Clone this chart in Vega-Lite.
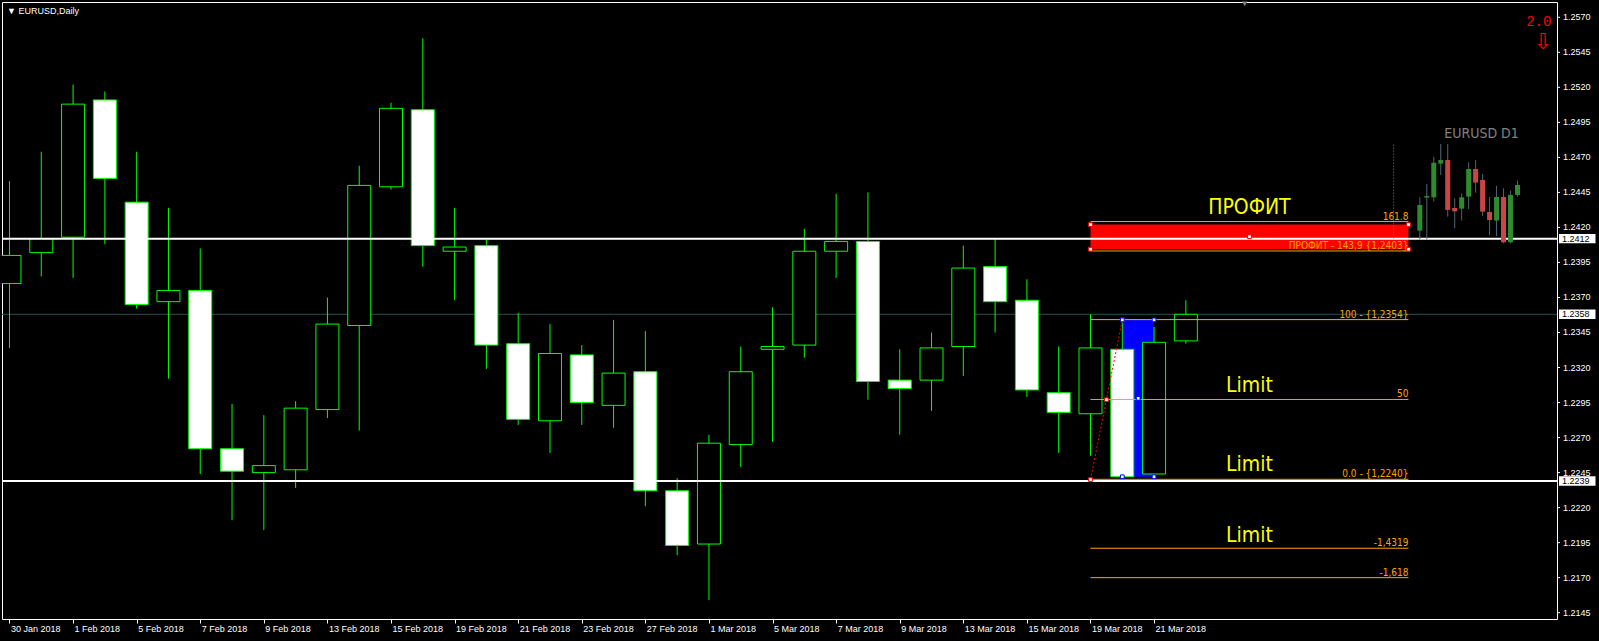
{
  "$schema": "https://vega.github.io/schema/vega-lite/v6.json",
  "width": 1555,
  "height": 617,
  "autosize": {"type": "none"},
  "padding": {"left": 2, "top": 2, "right": 42, "bottom": 22},
  "background": "#000000",
  "title": {
    "text": "▼ EURUSD,Daily",
    "anchor": "start",
    "frame": "group",
    "orient": "top",
    "offset": -14,
    "dx": 5,
    "color": "#FFFFFF",
    "font": "Liberation Sans",
    "fontSize": 9,
    "fontWeight": "normal"
  },
  "config": {
    "font": "Liberation Sans",
    "view": {"stroke": "#FFFFFF", "strokeWidth": 1, "fill": "#000000"},
    "axis": {"labelOverlap": false, "labelFlush": false, "grid": false, "domain": false, "title": null}
  },
  "datasets": {
    "candles": [
      {"i": 0, "date": "2018-01-30", "o": 1.2380, "h": 1.2453, "l": 1.2334, "c": 1.2400},
      {"i": 1, "date": "2018-01-31", "o": 1.2402, "h": 1.2474, "l": 1.2385, "c": 1.2412},
      {"i": 2, "date": "2018-02-01", "o": 1.2413, "h": 1.2522, "l": 1.2384, "c": 1.2508},
      {"i": 3, "date": "2018-02-02", "o": 1.2511, "h": 1.2517, "l": 1.2408, "c": 1.2455},
      {"i": 4, "date": "2018-02-05", "o": 1.2438, "h": 1.2474, "l": 1.2362, "c": 1.2365},
      {"i": 5, "date": "2018-02-06", "o": 1.2367, "h": 1.2434, "l": 1.2312, "c": 1.2375},
      {"i": 6, "date": "2018-02-07", "o": 1.2375, "h": 1.2405, "l": 1.2244, "c": 1.2262},
      {"i": 7, "date": "2018-02-08", "o": 1.2262, "h": 1.2294, "l": 1.2211, "c": 1.2246},
      {"i": 8, "date": "2018-02-09", "o": 1.2245, "h": 1.2286, "l": 1.2204, "c": 1.2250},
      {"i": 9, "date": "2018-02-12", "o": 1.2247, "h": 1.2296, "l": 1.2234, "c": 1.2291},
      {"i": 10, "date": "2018-02-13", "o": 1.2290, "h": 1.2370, "l": 1.2284, "c": 1.2351},
      {"i": 11, "date": "2018-02-14", "o": 1.2350, "h": 1.2464, "l": 1.2275, "c": 1.2450},
      {"i": 12, "date": "2018-02-15", "o": 1.2449, "h": 1.2509, "l": 1.2447, "c": 1.2505},
      {"i": 13, "date": "2018-02-16", "o": 1.2504, "h": 1.2555, "l": 1.2392, "c": 1.2407},
      {"i": 14, "date": "2018-02-19", "o": 1.2403, "h": 1.2434, "l": 1.2368, "c": 1.2406},
      {"i": 15, "date": "2018-02-20", "o": 1.2407, "h": 1.2411, "l": 1.2319, "c": 1.2336},
      {"i": 16, "date": "2018-02-21", "o": 1.2337, "h": 1.2359, "l": 1.2279, "c": 1.2283},
      {"i": 17, "date": "2018-02-22", "o": 1.2282, "h": 1.2351, "l": 1.2259, "c": 1.2330},
      {"i": 18, "date": "2018-02-23", "o": 1.2329, "h": 1.2336, "l": 1.2279, "c": 1.2295},
      {"i": 19, "date": "2018-02-26", "o": 1.2293, "h": 1.2354, "l": 1.2277, "c": 1.2316},
      {"i": 20, "date": "2018-02-27", "o": 1.2317, "h": 1.2346, "l": 1.2221, "c": 1.2232},
      {"i": 21, "date": "2018-02-28", "o": 1.2232, "h": 1.2241, "l": 1.2186, "c": 1.2193},
      {"i": 22, "date": "2018-03-01", "o": 1.2194, "h": 1.2272, "l": 1.2154, "c": 1.2266},
      {"i": 23, "date": "2018-03-02", "o": 1.2265, "h": 1.2335, "l": 1.2249, "c": 1.2317},
      {"i": 24, "date": "2018-03-05", "o": 1.2333, "h": 1.2363, "l": 1.2267, "c": 1.2335},
      {"i": 25, "date": "2018-03-06", "o": 1.2336, "h": 1.2419, "l": 1.2327, "c": 1.2403},
      {"i": 26, "date": "2018-03-07", "o": 1.2403, "h": 1.2444, "l": 1.2384, "c": 1.2410},
      {"i": 27, "date": "2018-03-08", "o": 1.2410, "h": 1.2445, "l": 1.2297, "c": 1.2310},
      {"i": 28, "date": "2018-03-09", "o": 1.2311, "h": 1.2333, "l": 1.2272, "c": 1.2305},
      {"i": 29, "date": "2018-03-12", "o": 1.2311, "h": 1.2345, "l": 1.2289, "c": 1.2334},
      {"i": 30, "date": "2018-03-13", "o": 1.2335, "h": 1.2407, "l": 1.2314, "c": 1.2391},
      {"i": 31, "date": "2018-03-14", "o": 1.2392, "h": 1.2412, "l": 1.2345, "c": 1.2367},
      {"i": 32, "date": "2018-03-15", "o": 1.2368, "h": 1.2383, "l": 1.2299, "c": 1.2304},
      {"i": 33, "date": "2018-03-16", "o": 1.2302, "h": 1.2335, "l": 1.2259, "c": 1.2288},
      {"i": 34, "date": "2018-03-19", "o": 1.2287, "h": 1.2358, "l": 1.2257, "c": 1.2334},
      {"i": 35, "date": "2018-03-20", "o": 1.2333, "h": 1.2354, "l": 1.2240, "c": 1.2242},
      {"i": 36, "date": "2018-03-21", "o": 1.2244, "h": 1.2349, "l": 1.2240, "c": 1.2338},
      {"i": 37, "date": "2018-03-22", "o": 1.2339, "h": 1.2368, "l": 1.2337, "c": 1.2358}
    ],
    "mini": [
      {"n": 0, "o": 1.24177, "h": 1.24415, "l": 1.24115, "c": 1.24360},
      {"n": 1, "o": 1.24413, "h": 1.24510, "l": 1.24115, "c": 1.24424},
      {"n": 2, "o": 1.24415, "h": 1.24705, "l": 1.24384, "c": 1.24662},
      {"n": 3, "o": 1.24655, "h": 1.24796, "l": 1.24574, "c": 1.24681},
      {"n": 4, "o": 1.24681, "h": 1.24796, "l": 1.24277, "c": 1.24325},
      {"n": 5, "o": 1.24339, "h": 1.24408, "l": 1.24194, "c": 1.24315},
      {"n": 6, "o": 1.24334, "h": 1.24444, "l": 1.24249, "c": 1.24415},
      {"n": 7, "o": 1.24420, "h": 1.24665, "l": 1.24332, "c": 1.24617},
      {"n": 8, "o": 1.24617, "h": 1.24681, "l": 1.24448, "c": 1.24520},
      {"n": 9, "o": 1.24539, "h": 1.24582, "l": 1.24282, "c": 1.24313},
      {"n": 10, "o": 1.24310, "h": 1.24417, "l": 1.24146, "c": 1.24253},
      {"n": 11, "o": 1.24249, "h": 1.24496, "l": 1.24139, "c": 1.24417},
      {"n": 12, "o": 1.24417, "h": 1.24479, "l": 1.24087, "c": 1.24094},
      {"n": 13, "o": 1.24094, "h": 1.24463, "l": 1.24087, "c": 1.24432},
      {"n": 14, "o": 1.24432, "h": 1.24534, "l": 1.24420, "c": 1.24503}
    ],
    "prices": [
      {"p": 1.2145}, {"p": 1.2170}, {"p": 1.2195}, {"p": 1.2220}, {"p": 1.2245}, {"p": 1.2270},
      {"p": 1.2295}, {"p": 1.2320}, {"p": 1.2345}, {"p": 1.2370}, {"p": 1.2395}, {"p": 1.2420},
      {"p": 1.2445}, {"p": 1.2470}, {"p": 1.2495}, {"p": 1.2520}, {"p": 1.2545}, {"p": 1.2570}
    ],
    "hlines": [
      {"kind": "bid", "p": 1.2358},
      {"kind": "level", "p": 1.2412},
      {"kind": "level", "p": 1.2239}
    ],
    "fib": [
      {"lvl": "161.8", "p": 1.24242, "t": "161.8"},
      {"lvl": "143.9", "p": 1.24032, "t": "ПРОФИТ - 143,9  {1,2403}"},
      {"lvl": "100", "p": 1.23542, "t": "100 - {1,2354}"},
      {"lvl": "50", "p": 1.22972, "t": "50"},
      {"lvl": "0", "p": 1.22402, "t": "0.0 - {1,2240}"},
      {"lvl": "-143.19", "p": 1.21910, "t": "-1,4319"},
      {"lvl": "-161.8", "p": 1.21700, "t": "-1,618"}
    ],
    "notes": [
      {"i": 39, "p": 1.24339, "t": "ПРОФИТ"},
      {"i": 39, "p": 1.23066, "t": "Limit"},
      {"i": 39, "p": 1.22506, "t": "Limit"},
      {"i": 39, "p": 1.21998, "t": "Limit"}
    ],
    "handles": [
      {"obj": "profit", "i": 34, "p": 1.2422},
      {"obj": "profit", "i": 34, "p": 1.24044},
      {"obj": "profit", "i": 44, "p": 1.2422},
      {"obj": "profit", "i": 44, "p": 1.24044},
      {"obj": "profit", "i": 39, "p": 1.24134},
      {"obj": "fibo", "i": 34, "p": 1.2240},
      {"obj": "fibo", "i": 34.5, "p": 1.2297},
      {"obj": "fibo", "i": 35, "p": 1.2354},
      {"obj": "range", "i": 35, "p": 1.2354},
      {"obj": "range", "i": 36, "p": 1.2354},
      {"obj": "range", "i": 35, "p": 1.2242},
      {"obj": "range", "i": 36, "p": 1.2242},
      {"obj": "range", "i": 35.5, "p": 1.2298}
    ]
  },
  "resolve": {"scale": {"x": "independent"}},
  "layer": [
    {
      "layer": [
        {
          "data": {"name": "hlines"},
          "transform": [{"filter": "datum.kind === 'bid'"}],
          "mark": {"type": "rule", "color": "#2F4F4F", "strokeWidth": 1},
          "encoding": {
            "y": {"field": "p", "type": "quantitative", "scale": {"domain": [1.21405, 1.25809], "nice": false, "zero": false}, "axis": null}
          }
        },
        {
          "data": {"values": [{"i0": 35, "i1": 36, "p0": 1.2242, "p1": 1.2354}]},
          "mark": {"type": "rect", "color": "#0000FF"},
          "encoding": {
            "x": {"field": "i0", "type": "quantitative", "scale": {"domain": [-0.078125, 48.515625], "nice": false, "zero": false}},
            "x2": {"field": "i1"},
            "y": {"field": "p0", "type": "quantitative", "scale": {"domain": [1.21405, 1.25809], "nice": false, "zero": false}, "axis": null},
            "y2": {"field": "p1"}
          }
        },
        {
          "data": {"values": [{"i0": 34, "i1": 44, "p0": 1.24044, "p1": 1.2422}]},
          "mark": {"type": "rect", "color": "#FF0000"},
          "encoding": {
            "x": {"field": "i0", "type": "quantitative", "scale": {"domain": [-0.078125, 48.515625], "nice": false, "zero": false}},
            "x2": {"field": "i1"},
            "y": {"field": "p0", "type": "quantitative", "scale": {"domain": [1.21405, 1.25809], "nice": false, "zero": false}, "axis": null},
            "y2": {"field": "p1"}
          }
        },
        {
          "data": {"name": "candles"},
          "mark": {"type": "rule", "color": "#00FF00", "strokeWidth": 1, "clip": true},
          "encoding": {
            "x": {
              "field": "i", "type": "quantitative",
              "scale": {"domain": [-0.078125, 48.515625], "nice": false, "zero": false},
              "axis": {
                "orient": "bottom",
                "values": [0, 2, 4, 6, 8, 10, 12, 14, 16, 18, 20, 22, 24, 26, 28, 30, 32, 34, 36],
                "labelExpr": "['30 Jan 2018','1 Feb 2018','5 Feb 2018','7 Feb 2018','9 Feb 2018','13 Feb 2018','15 Feb 2018','19 Feb 2018','21 Feb 2018','23 Feb 2018','27 Feb 2018','1 Mar 2018','5 Mar 2018','7 Mar 2018','9 Mar 2018','13 Mar 2018','15 Mar 2018','19 Mar 2018','21 Mar 2018'][round(datum.value / 2)]",
                "title": null,
                "grid": false,
                "domain": false,
                "tickColor": "#FFFFFF",
                "tickSize": 4,
                "labelColor": "#FFFFFF",
                "labelFont": "Liberation Sans",
                "labelFontSize": 9,
                "labelAlign": "left",
                "labelBaseline": "top",
                "labelPadding": 1,
                "labelOffset": 1,
                "labelFlush": false,
                "labelOverlap": false
              }
            },
            "y": {"field": "l", "type": "quantitative", "scale": {"domain": [1.21405, 1.25809], "nice": false, "zero": false}, "axis": null},
            "y2": {"field": "h"}
          }
        },
        {
          "data": {"name": "candles"},
          "mark": {"type": "bar", "width": 23, "stroke": "#00FF00", "strokeWidth": 1, "clip": true},
          "encoding": {
            "x": {"field": "i", "type": "quantitative", "scale": {"domain": [-0.078125, 48.515625], "nice": false, "zero": false}},
            "y": {"field": "o", "type": "quantitative", "scale": {"domain": [1.21405, 1.25809], "nice": false, "zero": false}, "axis": null},
            "y2": {"field": "c"},
            "fill": {"condition": {"test": "datum.c < datum.o", "value": "#FFFFFF"}, "value": "#000000"}
          }
        },
        {
          "data": {"name": "fib"},
          "mark": {"type": "rule", "color": "#FFA500", "strokeWidth": 1},
          "encoding": {
            "x": {"datum": 34, "type": "quantitative", "scale": {"domain": [-0.078125, 48.515625], "nice": false, "zero": false}},
            "x2": {"datum": 44},
            "y": {"field": "p", "type": "quantitative", "scale": {"domain": [1.21405, 1.25809], "nice": false, "zero": false}, "axis": null}
          }
        },
        {
          "data": {"name": "hlines"},
          "transform": [{"filter": "datum.kind === 'level'"}],
          "mark": {"type": "rule", "color": "#FFFFFF", "strokeWidth": 2},
          "encoding": {
            "y": {"field": "p", "type": "quantitative", "scale": {"domain": [1.21405, 1.25809], "nice": false, "zero": false}, "axis": null}
          }
        },
        {
          "data": {"values": [{"i0": 34, "p0": 1.2240, "i1": 35, "p1": 1.2354}]},
          "mark": {"type": "rule", "color": "#FF0000", "strokeWidth": 1, "strokeDash": [2, 2]},
          "encoding": {
            "x": {"field": "i0", "type": "quantitative", "scale": {"domain": [-0.078125, 48.515625], "nice": false, "zero": false}},
            "x2": {"field": "i1"},
            "y": {"field": "p0", "type": "quantitative", "scale": {"domain": [1.21405, 1.25809], "nice": false, "zero": false}, "axis": null},
            "y2": {"field": "p1"}
          }
        },
        {
          "data": {"name": "handles"},
          "transform": [{"filter": "datum.obj !== 'range'"}],
          "mark": {"type": "square", "size": 14, "fill": "#FFFFFF", "stroke": "#FF0000", "strokeWidth": 1, "opacity": 1},
          "encoding": {
            "x": {"field": "i", "type": "quantitative", "scale": {"domain": [-0.078125, 48.515625], "nice": false, "zero": false}},
            "y": {"field": "p", "type": "quantitative", "scale": {"domain": [1.21405, 1.25809], "nice": false, "zero": false}, "axis": null}
          }
        },
        {
          "data": {"name": "handles"},
          "transform": [{"filter": "datum.obj === 'range'"}],
          "mark": {"type": "square", "size": 14, "fill": "#FFFFFF", "stroke": "#0000FF", "strokeWidth": 1, "opacity": 1},
          "encoding": {
            "x": {"field": "i", "type": "quantitative", "scale": {"domain": [-0.078125, 48.515625], "nice": false, "zero": false}},
            "y": {"field": "p", "type": "quantitative", "scale": {"domain": [1.21405, 1.25809], "nice": false, "zero": false}, "axis": null}
          }
        },
        {
          "data": {"name": "fib"},
          "mark": {"type": "text", "color": "#FFA500", "align": "right", "baseline": "alphabetic", "dy": -2, "font": "Liberation Sans Narrow, DejaVu Sans Condensed, sans-serif", "fontSize": 10},
          "encoding": {
            "x": {"datum": 44, "type": "quantitative", "scale": {"domain": [-0.078125, 48.515625], "nice": false, "zero": false}},
            "y": {"field": "p", "type": "quantitative", "scale": {"domain": [1.21405, 1.25809], "nice": false, "zero": false}, "axis": null},
            "text": {"field": "t"}
          }
        },
        {
          "data": {"name": "notes"},
          "mark": {"type": "text", "color": "#FFFF00", "align": "center", "baseline": "middle", "font": "DejaVu Sans Condensed, DejaVu Sans", "fontSize": 21},
          "encoding": {
            "x": {"field": "i", "type": "quantitative", "scale": {"domain": [-0.078125, 48.515625], "nice": false, "zero": false}},
            "y": {"field": "p", "type": "quantitative", "scale": {"domain": [1.21405, 1.25809], "nice": false, "zero": false}, "axis": null},
            "text": {"field": "t"}
          }
        },
        {
          "data": {"values": [{"i": 46.3, "p": 1.24865, "t": "EURUSD D1"}]},
          "mark": {"type": "text", "color": "#808080", "align": "center", "baseline": "middle", "font": "DejaVu Sans Condensed, DejaVu Sans", "fontSize": 14},
          "encoding": {
            "x": {"field": "i", "type": "quantitative", "scale": {"domain": [-0.078125, 48.515625], "nice": false, "zero": false}},
            "y": {"field": "p", "type": "quantitative", "scale": {"domain": [1.21405, 1.25809], "nice": false, "zero": false}, "axis": null},
            "text": {"field": "t"}
          }
        },
        {
          "data": {"values": [{"i": 38.85, "p": 1.25795}]},
          "mark": {"type": "point", "shape": "triangle-down", "size": 30, "filled": true, "color": "#808080", "opacity": 1},
          "encoding": {
            "x": {"field": "i", "type": "quantitative", "scale": {"domain": [-0.078125, 48.515625], "nice": false, "zero": false}},
            "y": {"field": "p", "type": "quantitative", "scale": {"domain": [1.21405, 1.25809], "nice": false, "zero": false}, "axis": null}
          }
        },
        {
          "data": {"values": [{"i": 48.1, "p": 1.25664, "t": "2.0"}]},
          "mark": {"type": "text", "color": "#FF0000", "align": "center", "baseline": "middle", "font": "Liberation Mono", "fontSize": 14},
          "encoding": {
            "x": {"field": "i", "type": "quantitative", "scale": {"domain": [-0.078125, 48.515625], "nice": false, "zero": false}},
            "y": {"field": "p", "type": "quantitative", "scale": {"domain": [1.21405, 1.25809], "nice": false, "zero": false}, "axis": null},
            "text": {"field": "t"}
          }
        },
        {
          "data": {"values": [{"i": 48.22, "p": 1.2552, "t": "⇩"}]},
          "mark": {"type": "text", "color": "#FF0000", "align": "center", "baseline": "middle", "font": "DejaVu Sans", "fontSize": 22},
          "encoding": {
            "x": {"field": "i", "type": "quantitative", "scale": {"domain": [-0.078125, 48.515625], "nice": false, "zero": false}},
            "y": {"field": "p", "type": "quantitative", "scale": {"domain": [1.21405, 1.25809], "nice": false, "zero": false}, "axis": null},
            "text": {"field": "t"}
          }
        },
        {
          "data": {"name": "prices"},
          "mark": {"type": "rule", "color": "#FFFFFF", "strokeWidth": 1, "x2Offset": 3},
          "encoding": {
            "x": {"value": "width"},
            "x2": {"value": "width"},
            "y": {"field": "p", "type": "quantitative", "scale": {"domain": [1.21405, 1.25809], "nice": false, "zero": false}, "axis": null}
          }
        },
        {
          "data": {"name": "prices"},
          "mark": {"type": "text", "color": "#FFFFFF", "align": "left", "baseline": "middle", "dx": 6, "font": "Liberation Sans", "fontSize": 9},
          "encoding": {
            "x": {"value": "width"},
            "y": {"field": "p", "type": "quantitative", "scale": {"domain": [1.21405, 1.25809], "nice": false, "zero": false}, "axis": null},
            "text": {"field": "p", "type": "quantitative", "format": ".4f"}
          }
        },
        {
          "data": {"name": "hlines"},
          "mark": {"type": "point", "shape": "M0,-0.26H2V0.26H0Z", "size": 1332, "filled": true, "color": "#FFFFFF", "opacity": 1, "xOffset": 2},
          "encoding": {
            "x": {"value": "width"},
            "y": {"field": "p", "type": "quantitative", "scale": {"domain": [1.21405, 1.25809], "nice": false, "zero": false}, "axis": null}
          }
        },
        {
          "data": {"name": "hlines"},
          "mark": {"type": "text", "color": "#000000", "align": "left", "baseline": "middle", "dx": 5, "font": "Liberation Sans", "fontSize": 9},
          "encoding": {
            "x": {"value": "width"},
            "y": {"field": "p", "type": "quantitative", "scale": {"domain": [1.21405, 1.25809], "nice": false, "zero": false}, "axis": null},
            "text": {"field": "p", "type": "quantitative", "format": ".4f"}
          }
        }
      ]
    },
    {
      "layer": [
        {
          "data": {"values": [{"n": -3.75, "p0": 1.2412, "p1": 1.2480}]},
          "mark": {"type": "rule", "color": "#808080", "strokeWidth": 1, "strokeDash": [1, 2]},
          "encoding": {
            "x": {"field": "n", "type": "quantitative", "scale": {"domain": [-202.56, 18.95], "nice": false, "zero": false}, "axis": null},
            "y": {"field": "p0", "type": "quantitative", "scale": {"domain": [1.21405, 1.25809], "nice": false, "zero": false}, "axis": null},
            "y2": {"field": "p1"}
          }
        },
        {
          "data": {"name": "mini"},
          "mark": {"type": "rule", "color": "#4F6478", "strokeWidth": 1},
          "encoding": {
            "x": {"field": "n", "type": "quantitative", "scale": {"domain": [-202.56, 18.95], "nice": false, "zero": false}, "axis": null},
            "y": {"field": "l", "type": "quantitative", "scale": {"domain": [1.21405, 1.25809], "nice": false, "zero": false}, "axis": null},
            "y2": {"field": "h"}
          }
        },
        {
          "data": {"name": "mini"},
          "mark": {"type": "bar", "width": 5},
          "encoding": {
            "x": {"field": "n", "type": "quantitative", "scale": {"domain": [-202.56, 18.95], "nice": false, "zero": false}, "axis": null},
            "y": {"field": "o", "type": "quantitative", "scale": {"domain": [1.21405, 1.25809], "nice": false, "zero": false}, "axis": null},
            "y2": {"field": "c"},
            "fill": {"condition": {"test": "datum.c < datum.o", "value": "#C84646"}, "value": "#2E8B2E"}
          }
        }
      ]
    }
  ]
}
